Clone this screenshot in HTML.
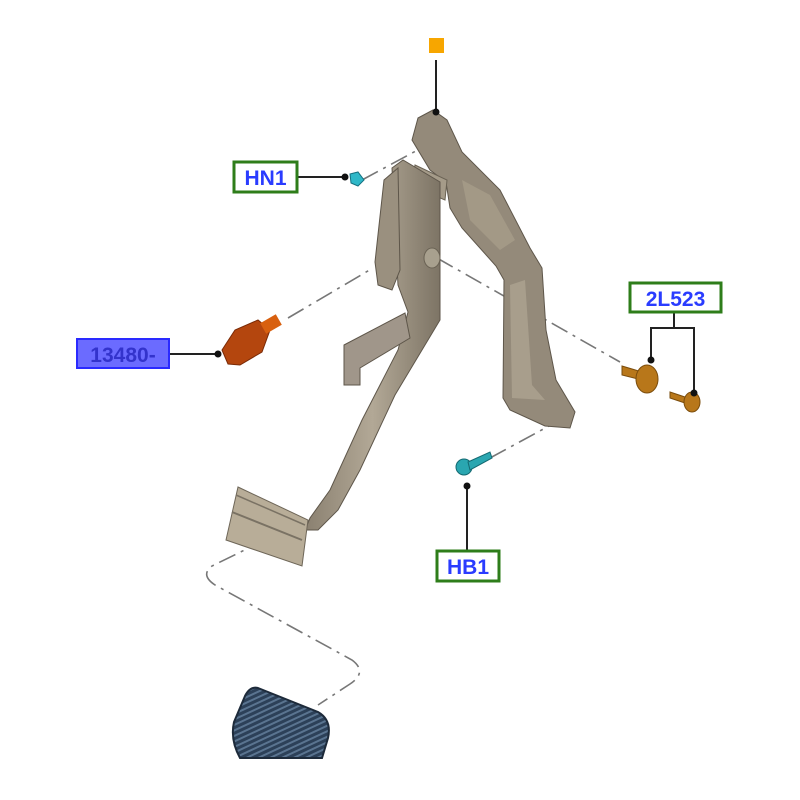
<!DOCTYPE html>
<html><head><meta charset="utf-8"><style>
html,body{margin:0;padding:0;background:#fff;}
svg{display:block;}
text{font-family:"Liberation Sans",sans-serif;font-weight:bold;}
</style></head><body>
<svg width="800" height="800" viewBox="0 0 800 800" xmlns="http://www.w3.org/2000/svg">
<defs>
<linearGradient id="metal" x1="0" y1="0" x2="1" y2="0">
<stop offset="0" stop-color="#8a8070"/><stop offset="0.5" stop-color="#b2a896"/><stop offset="1" stop-color="#7d7465"/>
</linearGradient>
<pattern id="stripes" width="5" height="5" patternUnits="userSpaceOnUse" patternTransform="rotate(65)">
<rect width="5" height="5" fill="#2c4058"/><rect width="2" height="5" fill="#5a7490"/>
</pattern>
</defs>

<g stroke="#777" stroke-width="1.6" fill="none" stroke-dasharray="18 6 3 6">
<line x1="362" y1="180" x2="440" y2="138"/>
<line x1="288" y1="318" x2="373" y2="268"/>
<line x1="437" y1="258" x2="620" y2="362"/>
<line x1="490" y1="458" x2="560" y2="420"/>
<path d="M265 540 L212 566 Q200 575 215 585 L352 660 Q368 672 350 684 L318 705"/>
</g>

<path d="M418 118 L433 110 L447 120 L462 152 L500 190 L530 248 L542 268 L546 330 L556 380 L575 412 L570 428 L545 426 L510 410 L503 398 L504 280 L496 266 L462 228 L450 208 L446 182 L430 170 L412 140 Z" fill="#948a7a" stroke="#5e564a" stroke-width="1"/>
<path d="M510 285 L525 280 L532 385 L545 400 L512 398 Z" fill="#a89e8c"/>
<path d="M462 180 L490 195 L515 240 L500 250 L470 220 Z" fill="#a39986"/>
<path d="M415 165 L447 180 L445 200 L412 186 Z" fill="#a59b89" stroke="#6a6254"/>

<path d="M392 168 L403 160 L440 182 L440 320 L425 345 L395 395 L360 470 L338 510 L318 530 L305 530 L310 518 L330 490 L362 420 L398 350 L408 312 L398 285 Z" fill="url(#metal)" stroke="#5e564a" stroke-width="1"/>
<path d="M384 180 L398 168 L400 270 L392 290 L378 285 L375 262 Z" fill="#9a907f" stroke="#5e564a"/>
<path d="M344 345 L405 313 L410 338 L360 368 L360 385 L344 385 Z" fill="#a0968a" stroke="#5e564a"/>
<ellipse cx="432" cy="258" rx="8" ry="10" fill="#a8a08e" stroke="#6a6254"/>
<path d="M238 487 L308 520 L302 566 L226 540 Z" fill="#b8ad98" stroke="#6e6658"/>
<line x1="232" y1="512" x2="302" y2="540" stroke="#7a7264" stroke-width="2"/>
<line x1="236" y1="495" x2="305" y2="525" stroke="#7a7264" stroke-width="1.5"/>

<path d="M258 688 L318 712 Q332 720 328 738 L322 758 L240 758 Q230 740 234 722 L245 696 Q250 686 258 688 Z" fill="url(#stripes)" stroke="#1d2a3a" stroke-width="2"/>

<path d="M222 350 L235 330 L258 320 L270 330 L262 352 L240 365 L228 364 Z" fill="#b4460e" stroke="#7a2a06"/>
<rect x="262" y="318" width="18" height="12" fill="#d8600f" transform="rotate(-30 271 324)"/>

<path d="M350 174 L358 172 L364 180 L358 186 L351 183 Z" fill="#2fb8c8" stroke="#147080"/>
<g fill="#2aa6b0" stroke="#146a72">
<circle cx="464" cy="467" r="8"/>
<path d="M468 462 L490 452 L492 458 L470 470 Z"/>
</g>
<g fill="#b8771a" stroke="#7a4c0c">
<path d="M622 366 L642 372 L642 380 L622 375 Z"/>
<ellipse cx="647" cy="379" rx="11" ry="14"/>
<path d="M670 392 L688 398 L688 404 L670 398 Z"/>
<ellipse cx="692" cy="402" rx="8" ry="10"/>
</g>

<g stroke="#222" stroke-width="2" fill="none">
<line x1="436" y1="60" x2="436" y2="112"/>
<line x1="297" y1="177" x2="345" y2="177"/>
<line x1="169" y1="354" x2="218" y2="354"/>
<line x1="467" y1="486" x2="467" y2="551"/>
<path d="M674 312 L674 328 M651 360 L651 328 L694 328 L694 393"/>
</g>
<g fill="#111">
<circle cx="436" cy="112" r="3.5"/><circle cx="345" cy="177" r="3.5"/>
<circle cx="218" cy="354" r="3.5"/><circle cx="467" cy="486" r="3.5"/>
<circle cx="651" cy="360" r="3.5"/><circle cx="694" cy="393" r="3.5"/>
</g>

<rect x="429" y="38" width="15" height="15" fill="#f7a600"/>

<rect x="234" y="162" width="63" height="30" fill="#fff" stroke="#2e7d1a" stroke-width="3"/>
<text x="265.5" y="185" font-size="21" fill="#2a3cff" text-anchor="middle">HN1</text>

<rect x="77" y="339" width="92" height="29" fill="#6b6bff" stroke="#2a2aff" stroke-width="2"/>
<text x="123" y="362" font-size="21" fill="#3333cc" text-anchor="middle">13480-</text>

<rect x="630" y="283" width="91" height="29" fill="#fff" stroke="#2e7d1a" stroke-width="3"/>
<text x="675.5" y="306" font-size="21" fill="#2a3cff" text-anchor="middle">2L523</text>

<rect x="437" y="551" width="62" height="30" fill="#fff" stroke="#2e7d1a" stroke-width="3"/>
<text x="468" y="574" font-size="21" fill="#2a3cff" text-anchor="middle">HB1</text>
</svg>
</body></html>
